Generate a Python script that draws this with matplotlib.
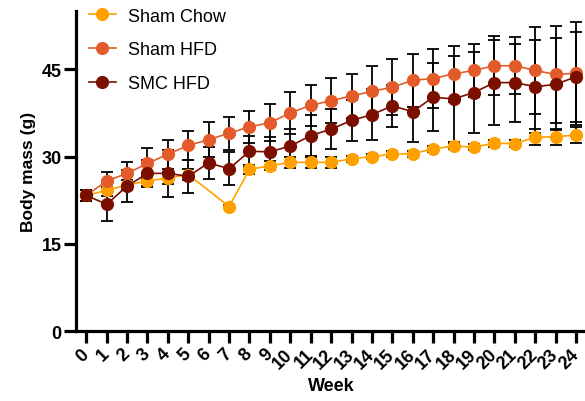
import numpy as np
import matplotlib
matplotlib.use("Agg")
import matplotlib.pyplot as plt

plt.rcParams['font.family'] = ['Liberation Sans', 'DejaVu Sans']

weeks = list(range(25))
week_labels = [str(w) for w in weeks]

sham_chow = [23.3, 24.2, 25.1, 25.8, 26.3, 26.9, np.nan, 21.4, 27.8, 28.4, 29.0, 29.0, 29.0,
             29.6, 30.0, 30.4, 30.5, 31.3, 31.8, 31.6, 32.3, 32.2, 33.3, 33.4, 33.7]
sham_chow_err = [1.0, 1.0, 0.8, 0.8, 1.0, 1.0, np.nan, 0.3, 0.8, 0.8, 1.0, 1.0, 1.0,
                 0.5, 0.5, 0.5, 0.5, 0.5, 0.5, 0.5, 0.6, 0.6, 1.4, 1.4, 1.4]

sham_hfd = [23.3, 25.8, 27.1, 28.8, 30.4, 31.9, 32.9, 34.0, 35.1, 35.8, 37.5, 38.8, 39.6,
            40.4, 41.2, 41.9, 43.1, 43.4, 44.2, 44.8, 45.6, 45.6, 44.8, 44.1, 44.3]
sham_hfd_err = [1.0, 1.6, 2.0, 2.6, 2.5, 2.5, 3.0, 2.8, 2.7, 3.2, 3.6, 3.5, 3.9,
                3.8, 4.4, 4.8, 4.6, 5.0, 4.8, 4.6, 5.1, 4.9, 7.5, 8.3, 8.9]

smc_hfd = [23.3, 21.8, 24.9, 27.1, 27.1, 26.6, 28.9, 27.9, 30.9, 30.8, 31.8, 33.6, 34.7,
           36.2, 37.2, 38.7, 37.7, 40.2, 39.9, 41.0, 42.7, 42.7, 42.0, 42.4, 43.7]
smc_hfd_err = [1.0, 2.9, 2.7, 2.3, 4.1, 2.8, 2.8, 2.8, 2.7, 2.6, 3.0, 3.5, 3.4,
               3.5, 4.4, 3.6, 5.2, 5.8, 7.4, 6.9, 7.3, 6.7, 8.0, 7.9, 7.7]

series = [
    ("Sham Chow", sham_chow, sham_chow_err, "#FFA000"),
    ("Sham HFD", sham_hfd, sham_hfd_err, "#E35B2A"),
    ("SMC HFD", smc_hfd, smc_hfd_err, "#7A0F00"),
]

fig = plt.figure(figsize=(5.85, 4.02), dpi=100)
ax = fig.add_axes([0.130, 0.174, 0.872, 0.796])

for i, (name, vals, errs, col) in enumerate(series):
    x = np.array(weeks, dtype=float)
    y = np.array(vals, dtype=float)
    e = np.array(errs, dtype=float)
    m = np.isfinite(y)
    ax.errorbar(x[m], y[m], yerr=e[m], fmt='none', ecolor='black', elinewidth=1.3,
                capsize=4, capthick=1.3, zorder=2 + i)
    ax.plot(x[m], y[m], '-o', color=col, lw=1.2, markersize=9.5, label=name,
            zorder=5 + i, markeredgewidth=0)

ax.set_xlim(-0.5, 24.5)
ax.set_ylim(0, 55)
ax.set_yticks([0, 15, 30, 45])
ax.set_xticks(weeks)
ax.set_xticklabels(week_labels, rotation=45, ha='right', va='center', rotation_mode='anchor')

for s in ['top', 'right']:
    ax.spines[s].set_visible(False)
for s in ['left', 'bottom']:
    ax.spines[s].set_linewidth(2.3)
ax.tick_params(axis='both', width=2.3, length=8.5, labelsize=13)
ax.tick_params(axis='x', pad=6)
ax.tick_params(axis='y', pad=2)
for lab in ax.get_xticklabels() + ax.get_yticklabels():
    lab.set_fontweight('bold')

ax.set_xlabel("Week", fontsize=13, fontweight='bold', labelpad=4)
ax.set_ylabel("Body mass (g)", fontsize=12.5, fontweight='bold', labelpad=4)

leg = ax.legend(loc='upper left', bbox_to_anchor=(0.012, 1.033), frameon=False,
                fontsize=13, handlelength=1.45, handletextpad=0.7, labelspacing=0.92,
                borderaxespad=0)

fig.savefig("out.png", dpi=100)
